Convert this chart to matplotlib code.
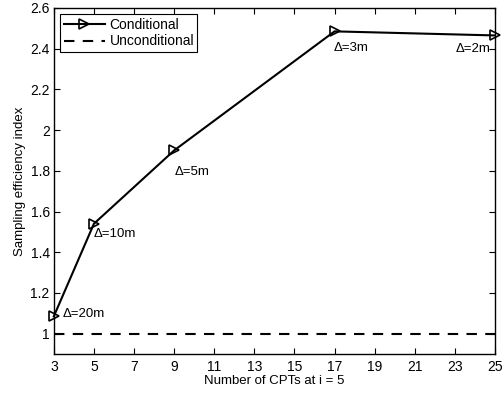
import matplotlib
matplotlib.use("Agg")
import matplotlib.pyplot as plt

plt.rcParams['font.family'] = ['Liberation Sans', 'DejaVu Sans']

x_vals = [3, 5, 9, 17, 25]
cond = [1.085, 1.54, 1.90, 2.485, 2.465]
uncond = 1.0
labels = ["Δ=20m", "Δ=10m", "Δ=5m", "Δ=3m", "Δ=2m"]
xticks = [3, 5, 7, 9, 11, 13, 15, 17, 19, 21, 23, 25]
yticks = [1, 1.2, 1.4, 1.6, 1.8, 2, 2.2, 2.4, 2.6]

fig = plt.figure(figsize=(5.03, 3.98), dpi=100)
ax = fig.add_axes([0.107, 0.1106, 0.877, 0.8694])

ax.plot(x_vals, cond, '-', color='k', lw=1.5, marker='>', mfc='none', mec='k', ms=7, mew=1.2,
        label='Conditional', clip_on=False, zorder=3)
ax.axhline(uncond, color='k', ls='--', lw=1.5, dashes=(5, 4), label='Unconditional')

offsets = [(9, 2, 'left', 'center'), (0, -10, 'left', 'center'),
           (0, -22, 'left', 'center'), (-1, -17, 'left', 'center'),
           (-4, -14, 'right', 'center')]
for xv, yv, lab, (dx, dy, ha, va) in zip(x_vals, cond, labels, offsets):
    ax.annotate(lab, (xv, yv), xytext=(dx, dy), textcoords='offset pixels',
                ha=ha, va=va, fontsize=9.5)

ax.set_xlim(3, 25)
ax.set_ylim(0.9, 2.6)
ax.set_xticks(xticks)
ax.set_yticks(yticks)
ax.set_yticklabels(['1', '1.2', '1.4', '1.6', '1.8', '2', '2.2', '2.4', '2.6'])
ax.tick_params(axis='y', pad=3)
ax.tick_params(axis='x', pad=4)
ax.tick_params(direction='in', top=True, right=True, labelsize=10, length=4)
for s in ax.spines.values():
    s.set_linewidth(1.0)
ax.set_xlabel('Number of CPTs at i = 5', fontsize=9.5, labelpad=1)
ax.set_ylabel('Sampling efficiency index', fontsize=9.5, labelpad=3)

leg = ax.legend(loc='upper left', fontsize=10, frameon=True, fancybox=False,
                edgecolor='k', framealpha=1, borderaxespad=0.45, handlelength=3.0,
                borderpad=0.25, labelspacing=0.2, handletextpad=0.3)
leg.get_frame().set_linewidth(0.8)

fig.savefig('out.png', dpi=100)
